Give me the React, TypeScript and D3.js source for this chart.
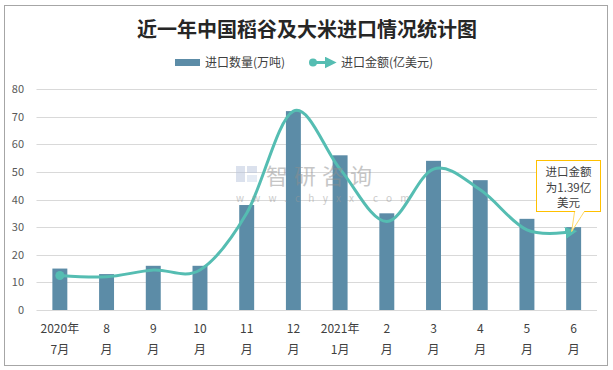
import * as d3 from 'd3';

const months = ['2020年|7月', '8|月', '9|月', '10|月', '11|月', '12|月', '2021年|1月', '2|月', '3|月', '4|月', '5|月', '6|月'];
const volume = [15, 13, 16, 16, 38, 72, 56, 35, 54, 47, 33, 30];
const amount = [12.5, 12, 14.5, 14.5, 35, 72, 51, 32, 51, 43.5, 29, 28.4];
const yTicks = [0, 10, 20, 30, 40, 50, 60, 70, 80];

const W = 613;
const H = 370;
const FONT = '"Noto Sans CJK SC", "Noto Sans", sans-serif';
const BAR = '#5c8ca7';
const LINE = '#55bdb2';

export default function App() {
  const x = d3.scaleBand<string>().domain(months).range([36.5, 597]).paddingInner(0.68).paddingOuter(0.34);
  const y = d3.scaleLinear().domain([0, 80]).range([310, 89]);
  const cx = (i: number) => (x(months[i]) ?? 0) + x.bandwidth() / 2;

  const line = d3
    .line<number>()
    .x((_, i) => cx(i))
    .y((d) => y(d))
    .curve(d3.curveCardinal.tension(0));

  const last = amount.length - 1;
  const px = cx(last);
  const py = y(amount[last]);

  return (
    <svg width={W} height={H} style={{ position: 'absolute', left: 0, top: 0 }} fontFamily={FONT}>
      <defs>
        <marker id="arr" viewBox="0 0 10 10" refX="7" refY="5" markerWidth="4" markerHeight="4" orient="auto">
          <path d="M0,0 L10,5 L0,10 z" fill={LINE} />
        </marker>
      </defs>
      <rect x={0} y={0} width={W} height={H} fill="#fff" />
      <rect x={4.5} y={5.5} width={603} height={360} fill="none" stroke="#a6a6a6" />

      <text x={307} y={37} textAnchor="middle" fontSize={20} fontWeight="bold" fill="#262626">
        近一年中国稻谷及大米进口情况统计图
      </text>

      {/* legend */}
      <rect x={175} y={59} width={25} height={7} fill={BAR} />
      <text x={205} y={67} fontSize={12} fill="#404040">进口数量(万吨)</text>
      <line x1={313} y1={62.5} x2={333} y2={62.5} stroke={LINE} strokeWidth={3} markerEnd="url(#arr)" />
      <circle cx={313} cy={62.5} r={4} fill={LINE} />
      <text x={341} y={67} fontSize={12} fill="#404040">进口金额(亿美元)</text>

      {/* grid */}
      {yTicks.map((t) => (
        <g key={t}>
          <line x1={36.5} x2={597} y1={Math.round(y(t)) + 0.5} y2={Math.round(y(t)) + 0.5} stroke="#d9d9d9" />
          <text x={24} y={y(t) + 4} textAnchor="end" fontSize={11} fill="#595959">
            {t}
          </text>
        </g>
      ))}

      {/* bars */}
      {volume.map((v, i) => (
        <rect key={i} x={x(months[i])} y={y(v)} width={x.bandwidth()} height={y(0) - y(v)} fill={BAR} />
      ))}

      {/* line */}
      <path d={line(amount) ?? ''} fill="none" stroke={LINE} strokeWidth={3} markerEnd="url(#arr)" />
      <circle cx={cx(0)} cy={y(amount[0])} r={4.5} fill={LINE} />

      {/* watermark */}
      <g opacity={0.5}>
        <rect x={236} y={166} width={9} height={16} fill="#b9c4dd" />
        <rect x={247} y={166} width={10} height={7} fill="#b9c4dd" />
        <rect x={247} y={175} width={10} height={7} fill="#cdd9ea" />
        <text x={266} y={184} fontSize={22} fill="#8f8f8f" letterSpacing={6}>智研咨询</text>
        <text x={236} y={202} fontSize={10} fill="#9a9a9a" letterSpacing={8.2}>www.chyxx.com</text>
      </g>

      {/* x labels */}
      {months.map((m, i) => {
        const [a, b] = m.split('|');
        return (
          <text key={m} x={cx(i)} textAnchor="middle" fontSize={12} fill="#404040">
            <tspan x={cx(i)} y={333}>{a}</tspan>
            <tspan x={cx(i)} y={354}>{b}</tspan>
          </text>
        );
      })}

      {/* callout */}
      <path d={`M${px + 1},211 L${px - 2},${py} L${px + 11},211`} fill="#fff" stroke="#ffd966" strokeWidth={1} />
      <rect x={536.5} y={160.5} width={64} height={51} fill="#fff" stroke="#ffc000" />
      <line x1={px + 1.5} x2={px + 10.5} y1={211} y2={211} stroke="#fff" strokeWidth={2} />
      <text textAnchor="middle" fontSize={11.5} fill="#404040">
        <tspan x={568.5} y={176}>进口金额</tspan>
        <tspan x={568.5} y={192}>为1.39亿</tspan>
        <tspan x={568.5} y={207}>美元</tspan>
      </text>
    </svg>
  );
}
